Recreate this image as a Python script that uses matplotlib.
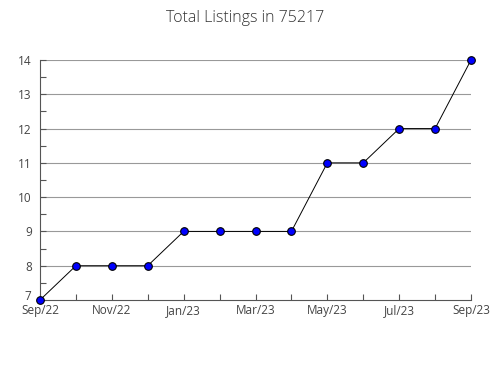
import matplotlib
matplotlib.use("Agg")
import matplotlib.pyplot as plt
from matplotlib.ticker import MultipleLocator

plt.rcParams['font.family'] = ['Open Sans', 'DejaVu Sans']

months = ["Sep/22", "Oct/22", "Nov/22", "Dec/22", "Jan/23", "Feb/23", "Mar/23",
          "Apr/23", "May/23", "Jun/23", "Jul/23", "Aug/23", "Sep/23"]
listings = [7, 8, 8, 8, 9, 9, 9, 9, 11, 11, 12, 12, 14]
y_ticks = [7, 8, 9, 10, 11, 12, 13, 14]

fig = plt.figure(figsize=(4.9, 3.8), dpi=100)
ax = fig.add_axes([40/490, 80/380, 431/490, 240/380])

x = list(range(len(months)))
ax.plot(x, listings, color="black", linewidth=0.7,
        marker="o", markersize=5.5, markerfacecolor="blue",
        markeredgecolor="black", markeredgewidth=0.8, zorder=3, clip_on=False)

ax.set_xlim(0, len(months) - 1)
ax.set_ylim(7, 14)
ax.set_xticks(x)
ax.set_xticklabels([m if i % 2 == 0 else "" for i, m in enumerate(months)])
ax.set_yticks(y_ticks)
ax.yaxis.set_minor_locator(MultipleLocator(0.5))

for v in y_ticks[1:]:
    ax.axhline(v, color="#999999", linewidth=0.8, zorder=1)

for s in ["top", "right"]:
    ax.spines[s].set_visible(False)
for s in ["left", "bottom"]:
    ax.spines[s].set_color("#555555")
    ax.spines[s].set_linewidth(0.8)

ax.tick_params(axis="both", which="both", direction="in", colors="#555555",
               labelcolor="#444444", labelsize=8.5, width=0.8)
ax.tick_params(axis="both", which="major", length=4)
ax.tick_params(axis="y", which="minor", length=4)
ax.tick_params(axis="x", pad=3)
ax.tick_params(axis="y", pad=6)

# the bottom label sits a little higher, as in the original
ax.get_yticklabels()[0].set_verticalalignment("baseline")

fig.suptitle("Total Listings in 75217", x=0.5, y=0.975, fontsize=11.5,
             color="#333333", fontweight="light")

fig.savefig("out.png", dpi=100)
